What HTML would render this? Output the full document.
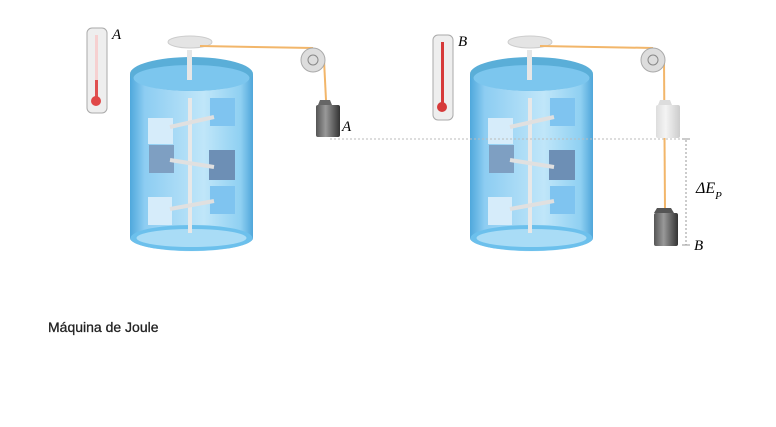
<!DOCTYPE html>
<html><head><style>
body{margin:0;background:#fff;width:776px;height:422px;overflow:hidden;font-family:"Liberation Sans",sans-serif}
</style></head><body>
<svg width="776" height="422" viewBox="0 0 776 422" xmlns="http://www.w3.org/2000/svg">
<defs>
<linearGradient id="body" x1="0" x2="1">
<stop offset="0" stop-color="#4fa8dc"/><stop offset="0.12" stop-color="#8dcdf2"/><stop offset="0.6" stop-color="#c0e6f9"/><stop offset="0.9" stop-color="#8fd0f2"/><stop offset="1" stop-color="#4fa6da"/>
</linearGradient>
<linearGradient id="wt" x1="0" x2="1"><stop offset="0" stop-color="#555"/><stop offset="0.4" stop-color="#999"/><stop offset="1" stop-color="#333"/></linearGradient>
<linearGradient id="wtl" x1="0" x2="1"><stop offset="0" stop-color="#ddd"/><stop offset="0.4" stop-color="#f4f4f4"/><stop offset="1" stop-color="#ccc"/></linearGradient>
<g id="tank">
<path d="M130 74 L130 238 A61 13 0 0 0 253 238 L253 74 Z" fill="url(#body)"/>
<ellipse cx="191.5" cy="238" rx="61" ry="13" fill="#6cc0ec"/>
<ellipse cx="191.5" cy="238" rx="55" ry="9" fill="#a9dcf6"/>
<ellipse cx="191.5" cy="74" rx="61.5" ry="17" fill="#5aaed8"/>
<ellipse cx="191.5" cy="78" rx="58" ry="13" fill="#7cc6ee"/>
<rect x="187" y="50" width="5" height="30" fill="#e6e6e6"/>
<ellipse cx="190" cy="42" rx="22" ry="6" fill="#e4e4e4" stroke="#ccc"/>
<rect x="148" y="118" width="25" height="26" fill="#d6ecfa"/>
<rect x="210" y="98" width="25" height="28" fill="#7fc4f0"/>
<rect x="149" y="145" width="25" height="28" fill="#7e9fc2"/>
<rect x="209" y="150" width="26" height="30" fill="#6d8fb5"/>
<rect x="148" y="197" width="24" height="28" fill="#d6ecfa"/>
<rect x="210" y="186" width="25" height="28" fill="#7fc4f0"/>
<rect x="188" y="98" width="4" height="135" fill="#e8e8e8"/>
<line x1="170" y1="127" x2="214" y2="117" stroke="#e0e0e0" stroke-width="4"/>
<line x1="170" y1="160" x2="214" y2="167" stroke="#e0e0e0" stroke-width="4"/>
<line x1="170" y1="209" x2="214" y2="201" stroke="#e0e0e0" stroke-width="4"/>
</g>
</defs>
<use href="#tank"/>
<use href="#tank" x="340"/>
<line x1="200" y1="46" x2="313" y2="48" stroke="#f2b66a" stroke-width="2"/>
<line x1="324" y1="60" x2="326" y2="100" stroke="#f2b66a" stroke-width="2"/>
<circle cx="313" cy="60" r="12" fill="#ddd" stroke="#aaa"/><circle cx="313" cy="60" r="5" fill="none" stroke="#888"/>
<path d="M320 100h10l2 5h-14z" fill="#666"/><rect x="316" y="105" width="24" height="32" rx="2" fill="url(#wt)"/>
<text x="342" y="131" font-family="Liberation Serif" font-style="italic" font-size="15">A</text>
<line x1="330" y1="139" x2="690" y2="139" stroke="#bbb" stroke-dasharray="2,2"/>
<rect x="87" y="28" width="20" height="85" rx="5" fill="#eee" stroke="#aaa"/><rect x="95" y="35" width="3" height="60" fill="#f6d0d0"/><rect x="95" y="80" width="3" height="20" fill="#e05050"/><circle cx="96" cy="101" r="5" fill="#e04848"/>
<text x="112" y="39" font-family="Liberation Serif" font-style="italic" font-size="15">A</text>
<rect x="433" y="35" width="20" height="85" rx="5" fill="#eee" stroke="#aaa"/><rect x="441" y="42" width="3" height="65" fill="#d63a3a"/><circle cx="442" cy="107" r="5" fill="#d63a3a"/>
<text x="458" y="46" font-family="Liberation Serif" font-style="italic" font-size="15">B</text>
<line x1="540" y1="46" x2="653" y2="48" stroke="#f2b66a" stroke-width="2"/>
<line x1="664" y1="60" x2="665" y2="210" stroke="#f2b66a" stroke-width="2"/>
<circle cx="653" cy="60" r="12" fill="#ddd" stroke="#aaa"/><circle cx="653" cy="60" r="5" fill="none" stroke="#888"/>
<path d="M660 100h10l2 5h-14z" fill="#ddd"/><rect x="656" y="105" width="24" height="33" rx="2" fill="url(#wtl)"/>
<path d="M657 208h14l3 5h-20z" fill="#555"/><rect x="654" y="213" width="24" height="33" rx="2" fill="url(#wt)"/>
<line x1="686" y1="140" x2="686" y2="245" stroke="#999" stroke-dasharray="2,2"/>
<line x1="682" y1="139" x2="690" y2="139" stroke="#999"/><line x1="682" y1="245" x2="690" y2="245" stroke="#999"/>
<text x="696" y="193" font-family="Liberation Serif" font-style="italic" font-size="16">ΔE<tspan font-size="11" dy="6">P</tspan></text>
<text x="694" y="250" font-family="Liberation Serif" font-style="italic" font-size="15">B</text>
<text x="48" y="332" font-size="14" fill="#222" stroke="#222" stroke-width="0.3">Máquina de Joule</text>
</svg>
</body></html>
